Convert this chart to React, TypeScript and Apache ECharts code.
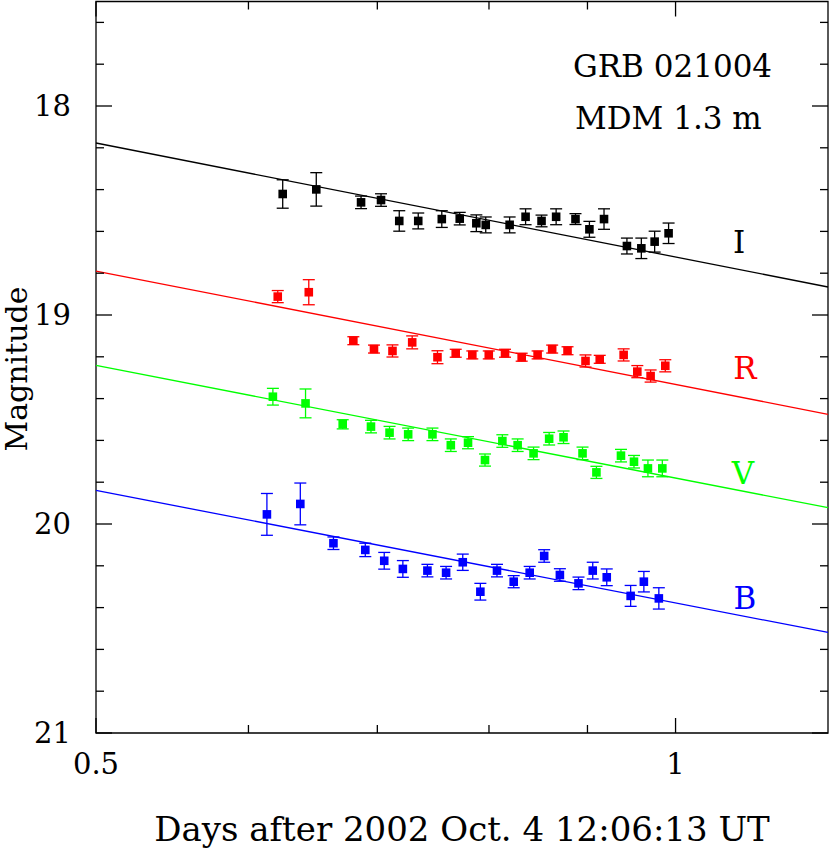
import React, { useEffect, useRef } from "react";
import * as echarts from "echarts";

// ---- Data (days after burst, magnitude, 1-sigma error) ----
const tI = [0.6251, 0.6507, 0.6865, 0.7031, 0.7186, 0.7351, 0.7561, 0.7725, 0.788, 0.7969, 0.82, 0.8358, 0.8519, 0.8669, 0.8872, 0.9021, 0.918, 0.9435, 0.9599, 0.9753, 0.9917];
const magI = [18.421, 18.399, 18.461, 18.45, 18.55, 18.55, 18.541, 18.539, 18.561, 18.569, 18.569, 18.53, 18.55, 18.53, 18.541, 18.59, 18.541, 18.67, 18.681, 18.649, 18.609];
const errI = [0.068, 0.08, 0.03, 0.03, 0.049, 0.038, 0.04, 0.03, 0.04, 0.038, 0.038, 0.038, 0.028, 0.038, 0.026, 0.038, 0.049, 0.038, 0.049, 0.05, 0.049];

const tR = [0.6214, 0.6449, 0.6802, 0.6972, 0.7128, 0.7298, 0.7522, 0.7688, 0.7842, 0.7998, 0.8155, 0.8319, 0.8479, 0.8628, 0.8788, 0.8979, 0.9133, 0.9398, 0.9553, 0.9706, 0.9878];
const magR = [18.912, 18.891, 19.123, 19.163, 19.172, 19.131, 19.202, 19.183, 19.191, 19.191, 19.183, 19.202, 19.191, 19.163, 19.171, 19.22, 19.212, 19.191, 19.271, 19.292, 19.243];
const errR = [0.029, 0.06, 0.019, 0.019, 0.029, 0.031, 0.031, 0.019, 0.019, 0.019, 0.019, 0.019, 0.019, 0.019, 0.019, 0.029, 0.019, 0.029, 0.029, 0.029, 0.029];

const tV = [0.6178, 0.6424, 0.6716, 0.6947, 0.7103, 0.7263, 0.7477, 0.7643, 0.7802, 0.7962, 0.8129, 0.8279, 0.8438, 0.8597, 0.8746, 0.8947, 0.9097, 0.9368, 0.9515, 0.9675, 0.9843];
const magV = [19.391, 19.423, 19.523, 19.534, 19.563, 19.571, 19.571, 19.623, 19.611, 19.694, 19.603, 19.623, 19.662, 19.592, 19.585, 19.662, 19.753, 19.673, 19.702, 19.734, 19.734];
const errV = [0.04, 0.069, 0.022, 0.03, 0.03, 0.03, 0.03, 0.03, 0.029, 0.029, 0.03, 0.03, 0.03, 0.03, 0.03, 0.03, 0.029, 0.03, 0.03, 0.04, 0.04];

const tB = [0.6134, 0.6384, 0.6642, 0.69, 0.7058, 0.7217, 0.7432, 0.76, 0.7753, 0.7918, 0.8077, 0.824, 0.8399, 0.8546, 0.8708, 0.8904, 0.9057, 0.921, 0.9477, 0.9628, 0.9802];
const magB = [19.954, 19.904, 20.092, 20.124, 20.176, 20.215, 20.223, 20.233, 20.183, 20.324, 20.223, 20.276, 20.233, 20.153, 20.244, 20.284, 20.223, 20.255, 20.344, 20.276, 20.356];
const errB = [0.1, 0.1, 0.03, 0.032, 0.04, 0.04, 0.03, 0.03, 0.039, 0.04, 0.03, 0.029, 0.03, 0.03, 0.03, 0.03, 0.04, 0.04, 0.05, 0.049, 0.051];

// power-law fits, evaluated at the ends of the axis
const fitT = [0.5, 1.2];
const fitI = [18.177, 18.866];
const fitR = [18.79, 19.475];
const fitV = [19.241, 19.922];
const fitB = [19.839, 20.519];

const bandNames = ["I", "R", "V", "B"];
const bandColors = ["#000000", "#ff0000", "#00ff00", "#0000ff"];

// axis ticks
const xMin = 0.5;
const xMax = 1.2;
const yMin = 17.5;
const yMax = 21;
const xMajorTicks = [0.5, 1];
const xMinorTicks = [0.6, 0.7, 0.8, 0.9];
const yMajorTicks = [18, 19, 20, 21];
const yMinorTicks = [17.6, 17.8, 18.2, 18.4, 18.6, 18.8, 19.2, 19.4, 19.6, 19.8, 20.2, 20.4, 20.6, 20.8];

const FONT = "'DejaVu Serif', serif";
const lg = (v: number) => Math.log10(v);

function errorSeries(t: number[], m: number[], e: number[], color: string) {
  return {
    type: "custom",
    coordinateSystem: "cartesian2d",
    silent: true,
    z: 4,
    encode: { x: 0, y: 1 },
    data: t.map((v, i) => [lg(v), m[i], e[i]]),
    renderItem: (_params: any, api: any) => {
      const x = api.value(0);
      const y = api.value(1);
      const er = api.value(2);
      const c = api.coord([x, y]);
      const top = api.coord([x, y - er]);
      const bot = api.coord([x, y + er]);
      const cap = 6;
      const s = 4.3;
      const ls = { stroke: color, lineWidth: 1.3 };
      return {
        type: "group",
        children: [
          { type: "line", shape: { x1: c[0], y1: top[1], x2: c[0], y2: bot[1] }, style: ls },
          { type: "line", shape: { x1: c[0] - cap, y1: top[1], x2: c[0] + cap, y2: top[1] }, style: ls },
          { type: "line", shape: { x1: c[0] - cap, y1: bot[1], x2: c[0] + cap, y2: bot[1] }, style: ls },
          { type: "rect", shape: { x: c[0] - s, y: c[1] - s, width: 2 * s, height: 2 * s }, style: { fill: color } },
        ],
      };
    },
  };
}

function fitSeries(vals: number[], color: string) {
  return {
    type: "line",
    silent: true,
    symbol: "none",
    z: 3,
    data: fitT.map((t, i) => [lg(t), vals[i]]),
    lineStyle: { color, width: 1.3 },
  };
}

const tickStyle = { stroke: "#000", lineWidth: 1.3 };

function xTickSeries() {
  const ticks = [
    ...xMajorTicks.map((v) => [lg(v), 19, 1]),
    ...xMinorTicks.map((v) => [lg(v), 19, 0]),
  ];
  return {
    type: "custom",
    silent: true,
    z: 5,
    encode: { x: 0, y: 1 },
    data: ticks,
    renderItem: (params: any, api: any) => {
      const cs = params.coordSys;
      const x = api.coord([api.value(0), api.value(1)])[0];
      const len = api.value(2) ? 15 : 8;
      const b = cs.y + cs.height;
      return {
        type: "group",
        children: [
          { type: "line", shape: { x1: x, y1: b, x2: x, y2: b - len }, style: tickStyle },
          { type: "line", shape: { x1: x, y1: cs.y, x2: x, y2: cs.y + len }, style: tickStyle },
        ],
      };
    },
  };
}

function yTickSeries() {
  const ticks = [
    ...yMajorTicks.map((v) => [lg(0.7), v, 1]),
    ...yMinorTicks.map((v) => [lg(0.7), v, 0]),
  ];
  return {
    type: "custom",
    silent: true,
    z: 5,
    encode: { x: 0, y: 1 },
    data: ticks,
    renderItem: (params: any, api: any) => {
      const cs = params.coordSys;
      const y = api.coord([api.value(0), api.value(1)])[1];
      const len = api.value(2) ? 16 : 8;
      const r = cs.x + cs.width;
      return {
        type: "group",
        children: [
          { type: "line", shape: { x1: cs.x, y1: y, x2: cs.x + len, y2: y }, style: tickStyle },
          { type: "line", shape: { x1: r, y1: y, x2: r - len, y2: y }, style: tickStyle },
        ],
      };
    },
  };
}

export default function App() {
  const ref = useRef<HTMLDivElement>(null);
  useEffect(() => {
    if (!ref.current) return;
    const chart = echarts.init(ref.current, undefined, { renderer: "svg" });
    const tSets = [tI, tR, tV, tB];
    const mSets = [magI, magR, magV, magB];
    const eSets = [errI, errR, errV, errB];
    const fits = [fitI, fitR, fitV, fitB];
    const labelPos = [
      [739, 242],
      [745, 368],
      [743, 473],
      [745, 598],
    ];
    chart.setOption({
      animation: false,
      backgroundColor: "#ffffff",
      grid: {
        left: 96,
        top: 1.5,
        width: 732,
        height: 731.5,
        show: true,
        borderColor: "#000",
        borderWidth: 1.3,
        backgroundColor: "transparent",
      },
      xAxis: {
        type: "value",
        min: lg(xMin),
        max: lg(xMax),
        interval: lg(2),
        axisLine: { show: false },
        axisTick: { show: false },
        splitLine: { show: false },
        axisLabel: {
          showMaxLabel: false,
          margin: 16,
          color: "#000",
          fontFamily: FONT,
          fontSize: 29,
          formatter: (v: number) => {
            const d = Math.pow(10, v);
            return String(Math.round(d * 100) / 100);
          },
        },
      },
      yAxis: {
        type: "value",
        inverse: true,
        min: yMin,
        max: yMax,
        interval: 0.5,
        axisLine: { show: false },
        axisTick: { show: false },
        splitLine: { show: false },
        axisLabel: {
          margin: 25,
          color: "#000",
          fontFamily: FONT,
          fontSize: 29,
          formatter: (v: number) => (Math.abs(v - Math.round(v)) < 1e-6 ? String(Math.round(v)) : ""),
        },
      },
      graphic: [
        {
          type: "text",
          x: 16,
          y: 369,
          rotation: Math.PI / 2,
          style: { text: "Magnitude", font: `30px ${FONT}`, fill: "#000", textAlign: "center", textVerticalAlign: "middle" },
        },
        {
          type: "text",
          x: 462,
          y: 829,
          style: {
            text: "Days after 2002 Oct. 4 12:06:13 UT",
            font: `34px ${FONT}`,
            fill: "#000",
            textAlign: "center",
            textVerticalAlign: "middle",
          },
        },
        {
          type: "text",
          x: 573,
          y: 66,
          style: { text: "GRB 021004", font: `31px ${FONT}`, fill: "#000", textAlign: "left", textVerticalAlign: "middle" },
        },
        {
          type: "text",
          x: 575,
          y: 118,
          style: { text: "MDM 1.3 m", font: `31px ${FONT}`, fill: "#000", textAlign: "left", textVerticalAlign: "middle" },
        },
        ...bandNames.map((b, i) => ({
          type: "text",
          x: labelPos[i][0],
          y: labelPos[i][1],
          style: { text: b, font: `31px ${FONT}`, fill: bandColors[i], textAlign: "center", textVerticalAlign: "middle" },
        })),
      ],
      series: [
        ...fits.map((f, i) => fitSeries(f, bandColors[i])),
        ...tSets.map((t, i) => errorSeries(t, mSets[i], eSets[i], bandColors[i])),
        xTickSeries(),
        yTickSeries(),
      ],
    });
    return () => chart.dispose();
  }, []);
  return <div ref={ref} style={{ position: "absolute", left: 0, top: 0, width: 830, height: 849 }} />;
}
